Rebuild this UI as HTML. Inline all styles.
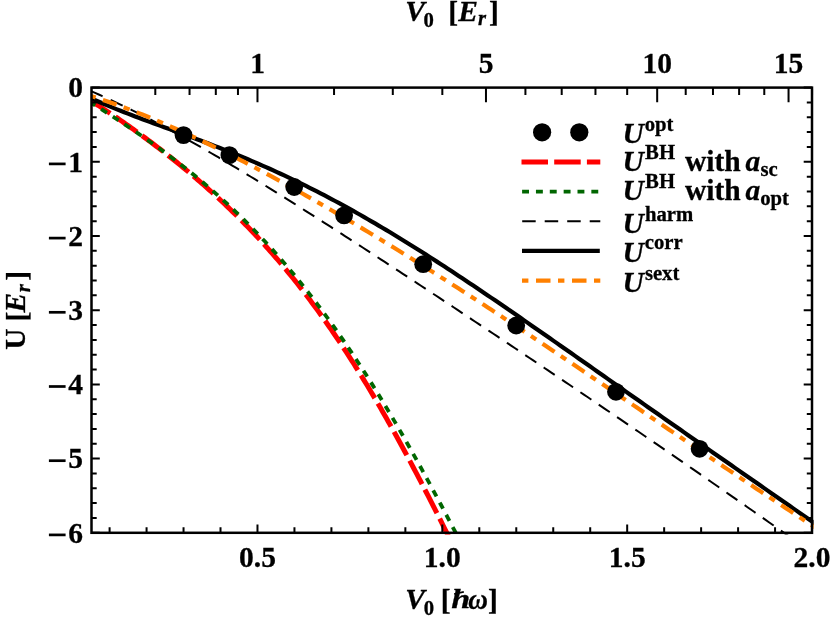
<!DOCTYPE html>
<html><head><meta charset="utf-8"><title>plot</title>
<style>html,body{margin:0;padding:0;background:#fff}body{width:830px;height:620px;position:relative;overflow:hidden;font-family:"Liberation Serif",serif}</style></head>
<body>
<svg width="830" height="620" viewBox="0 0 830 620" style="position:absolute;left:0;top:0;will-change:transform">
<rect width="830" height="620" fill="#fff"/>
<defs><clipPath id="c"><rect x="91.5" y="87.6" width="722.1" height="446.79999999999995"/></clipPath></defs>
<g clip-path="url(#c)" fill="none">
<path d="M91.50,101.18 L93.40,102.38 L95.30,103.58 L97.21,104.80 L99.11,106.02 L101.01,107.25 L102.91,108.49 L104.81,109.73 L106.72,110.99 L108.62,112.25 L110.52,113.52 L112.42,114.80 L114.32,116.08 L116.23,117.37 L118.13,118.67 L120.03,119.98 L121.93,121.30 L123.83,122.62 L125.74,123.94 L127.64,125.28 L129.54,126.62 L131.44,127.97 L133.34,129.33 L135.25,130.69 L137.15,132.06 L139.05,133.44 L140.95,134.83 L142.85,136.22 L144.76,137.62 L146.66,139.03 L148.56,140.44 L150.46,141.86 L152.36,143.29 L154.27,144.73 L156.17,146.17 L158.07,147.62 L159.97,149.08 L161.87,150.55 L163.78,152.02 L165.68,153.50 L167.58,155.00 L169.48,156.49 L171.38,158.00 L173.29,159.52 L175.19,161.04 L177.09,162.57 L178.99,164.11 L180.89,165.66 L182.80,167.22 L184.70,168.79 L186.60,170.36 L188.50,171.95 L190.40,173.54 L192.31,175.15 L194.21,176.76 L196.11,178.39 L198.01,180.02 L199.91,181.67 L201.82,183.32 L203.72,184.99 L205.62,186.67 L207.52,188.35 L209.42,190.05 L211.33,191.76 L213.23,193.48 L215.13,195.21 L217.03,196.96 L218.93,198.71 L220.84,200.48 L222.74,202.26 L224.64,204.05 L226.54,205.85 L228.44,207.67 L230.35,209.50 L232.25,211.35 L234.15,213.20 L236.05,215.07 L237.95,216.96 L239.86,218.85 L241.76,220.76 L243.66,222.69 L245.56,224.63 L247.46,226.58 L249.37,228.55 L251.27,230.54 L253.17,232.54 L255.07,234.55 L256.97,236.58 L258.88,238.62 L260.78,240.69 L262.68,242.76 L264.58,244.86 L266.48,246.97 L268.39,249.09 L270.29,251.23 L272.19,253.39 L274.09,255.57 L275.99,257.76 L277.90,259.97 L279.80,262.20 L281.70,264.45 L283.60,266.71 L285.51,268.99 L287.41,271.29 L289.31,273.61 L291.21,275.94 L293.11,278.30 L295.02,280.67 L296.92,283.06 L298.82,285.47 L300.72,287.90 L302.62,290.35 L304.53,292.82 L306.43,295.31 L308.33,297.81 L310.23,300.34 L312.13,302.89 L314.04,305.45 L315.94,308.04 L317.84,310.64 L319.74,313.27 L321.64,315.92 L323.55,318.58 L325.45,321.27 L327.35,323.98 L329.25,326.70 L331.15,329.45 L333.06,332.22 L334.96,335.01 L336.86,337.82 L338.76,340.65 L340.66,343.50 L342.57,346.37 L344.47,349.26 L346.37,352.17 L348.27,355.11 L350.17,358.06 L352.08,361.04 L353.98,364.03 L355.88,367.05 L357.78,370.08 L359.68,373.14 L361.59,376.22 L363.49,379.32 L365.39,382.44 L367.29,385.58 L369.19,388.74 L371.10,391.92 L373.00,395.12 L374.90,398.34 L376.80,401.58 L378.70,404.83 L380.61,408.11 L382.51,411.41 L384.41,414.73 L386.31,418.07 L388.21,421.43 L390.12,424.80 L392.02,428.19 L393.92,431.61 L395.82,435.04 L397.72,438.49 L399.63,441.96 L401.53,445.44 L403.43,448.94 L405.33,452.46 L407.23,456.00 L409.14,459.55 L411.04,463.12 L412.94,466.71 L414.84,470.31 L416.74,473.93 L418.65,477.56 L420.55,481.21 L422.45,484.88 L424.35,488.55 L426.25,492.24 L428.16,495.95 L430.06,499.67 L431.96,503.40 L433.86,507.14 L435.76,510.90 L437.67,514.66 L439.57,518.44 L441.47,522.23 L443.37,526.03 L445.27,529.84 L447.18,533.66 L449.08,537.48" stroke="#ff0000" stroke-width="5" stroke-dasharray="26.5 6.2" stroke-dashoffset="4.2"/>
<path d="M91.50,103.10 L93.45,104.31 L95.40,105.53 L97.36,106.75 L99.31,107.98 L101.26,109.21 L103.21,110.45 L105.17,111.69 L107.12,112.94 L109.07,114.19 L111.02,115.44 L112.97,116.70 L114.93,117.97 L116.88,119.24 L118.83,120.52 L120.78,121.80 L122.74,123.08 L124.69,124.38 L126.64,125.68 L128.59,126.98 L130.55,128.29 L132.50,129.61 L134.45,130.93 L136.40,132.26 L138.35,133.59 L140.31,134.94 L142.26,136.29 L144.21,137.64 L146.16,139.00 L148.12,140.38 L150.07,141.75 L152.02,143.14 L153.97,144.53 L155.92,145.93 L157.88,147.34 L159.83,148.76 L161.78,150.18 L163.73,151.62 L165.69,153.06 L167.64,154.51 L169.59,155.97 L171.54,157.44 L173.49,158.92 L175.45,160.41 L177.40,161.90 L179.35,163.41 L181.30,164.93 L183.26,166.46 L185.21,167.99 L187.16,169.54 L189.11,171.10 L191.07,172.67 L193.02,174.25 L194.97,175.84 L196.92,177.44 L198.87,179.05 L200.83,180.68 L202.78,182.32 L204.73,183.96 L206.68,185.62 L208.64,187.30 L210.59,188.98 L212.54,190.68 L214.49,192.39 L216.44,194.11 L218.40,195.85 L220.35,197.60 L222.30,199.36 L224.25,201.14 L226.21,202.93 L228.16,204.73 L230.11,206.55 L232.06,208.38 L234.02,210.23 L235.97,212.09 L237.92,213.96 L239.87,215.85 L241.82,217.76 L243.78,219.68 L245.73,221.61 L247.68,223.56 L249.63,225.53 L251.59,227.51 L253.54,229.51 L255.49,231.52 L257.44,233.55 L259.39,235.59 L261.35,237.66 L263.30,239.73 L265.25,241.83 L267.20,243.94 L269.16,246.07 L271.11,248.21 L273.06,250.38 L275.01,252.55 L276.96,254.75 L278.92,256.97 L280.87,259.20 L282.82,261.45 L284.77,263.71 L286.73,266.00 L288.68,268.30 L290.63,270.62 L292.58,272.96 L294.54,275.32 L296.49,277.69 L298.44,280.09 L300.39,282.50 L302.34,284.93 L304.30,287.38 L306.25,289.85 L308.20,292.33 L310.15,294.84 L312.11,297.36 L314.06,299.91 L316.01,302.47 L317.96,305.05 L319.91,307.65 L321.87,310.27 L323.82,312.91 L325.77,315.57 L327.72,318.25 L329.68,320.94 L331.63,323.66 L333.58,326.39 L335.53,329.15 L337.48,331.92 L339.44,334.71 L341.39,337.52 L343.34,340.36 L345.29,343.21 L347.25,346.08 L349.20,348.97 L351.15,351.87 L353.10,354.80 L355.06,357.75 L357.01,360.71 L358.96,363.70 L360.91,366.70 L362.86,369.72 L364.82,372.77 L366.77,375.83 L368.72,378.91 L370.67,382.00 L372.63,385.12 L374.58,388.25 L376.53,391.41 L378.48,394.58 L380.43,397.77 L382.39,400.98 L384.34,404.20 L386.29,407.44 L388.24,410.71 L390.20,413.98 L392.15,417.28 L394.10,420.59 L396.05,423.92 L398.01,427.27 L399.96,430.63 L401.91,434.01 L403.86,437.41 L405.81,440.82 L407.77,444.25 L409.72,447.70 L411.67,451.16 L413.62,454.63 L415.58,458.12 L417.53,461.63 L419.48,465.15 L421.43,468.68 L423.38,472.23 L425.34,475.80 L427.29,479.37 L429.24,482.96 L431.19,486.57 L433.15,490.18 L435.10,493.81 L437.05,497.45 L439.00,501.10 L440.95,504.76 L442.91,508.44 L444.86,512.13 L446.81,515.82 L448.76,519.53 L450.72,523.24 L452.67,526.97 L454.62,530.70 L456.57,534.45 L458.53,538.20" stroke="#006600" stroke-width="3.8" stroke-dasharray="6.9 6.95" stroke-dashoffset="2.5"/>
<path d="M91.50,91.35 L95.12,92.92 L98.74,94.51 L102.36,96.13 L105.98,97.76 L109.60,99.42 L113.22,101.11 L116.84,102.81 L120.46,104.53 L124.09,106.27 L127.71,108.04 L131.33,109.82 L134.95,111.62 L138.57,113.44 L142.19,115.27 L145.81,117.13 L149.43,119.00 L153.05,120.88 L156.67,122.78 L160.29,124.70 L163.91,126.64 L167.53,128.58 L171.15,130.55 L174.77,132.52 L178.39,134.52 L182.02,136.52 L185.64,138.54 L189.26,140.57 L192.88,142.61 L196.50,144.66 L200.12,146.73 L203.74,148.81 L207.36,150.90 L210.98,153.00 L214.60,155.11 L218.22,157.23 L221.84,159.36 L225.46,161.50 L229.08,163.65 L232.70,165.81 L236.32,167.98 L239.94,170.15 L243.57,172.34 L247.19,174.53 L250.81,176.73 L254.43,178.94 L258.05,181.15 L261.67,183.38 L265.29,185.61 L268.91,187.84 L272.53,190.08 L276.15,192.33 L279.77,194.59 L283.39,196.85 L287.01,199.12 L290.63,201.39 L294.25,203.67 L297.87,205.95 L301.49,208.24 L305.12,210.53 L308.74,212.83 L312.36,215.13 L315.98,217.44 L319.60,219.75 L323.22,222.07 L326.84,224.39 L330.46,226.71 L334.08,229.04 L337.70,231.37 L341.32,233.70 L344.94,236.04 L348.56,238.38 L352.18,240.72 L355.80,243.07 L359.42,245.42 L363.05,247.77 L366.67,250.12 L370.29,252.48 L373.91,254.84 L377.53,257.20 L381.15,259.57 L384.77,261.94 L388.39,264.31 L392.01,266.68 L395.63,269.05 L399.25,271.43 L402.87,273.81 L406.49,276.18 L410.11,278.57 L413.73,280.95 L417.35,283.34 L420.97,285.72 L424.60,288.11 L428.22,290.50 L431.84,292.89 L435.46,295.29 L439.08,297.68 L442.70,300.08 L446.32,302.47 L449.94,304.87 L453.56,307.27 L457.18,309.68 L460.80,312.08 L464.42,314.48 L468.04,316.89 L471.66,319.30 L475.28,321.71 L478.90,324.12 L482.53,326.53 L486.15,328.94 L489.77,331.35 L493.39,333.77 L497.01,336.18 L500.63,338.60 L504.25,341.02 L507.87,343.44 L511.49,345.86 L515.11,348.29 L518.73,350.71 L522.35,353.13 L525.97,355.56 L529.59,357.99 L533.21,360.42 L536.83,362.85 L540.45,365.28 L544.08,367.71 L547.70,370.15 L551.32,372.59 L554.94,375.02 L558.56,377.46 L562.18,379.90 L565.80,382.35 L569.42,384.79 L573.04,387.23 L576.66,389.68 L580.28,392.13 L583.90,394.58 L587.52,397.03 L591.14,399.48 L594.76,401.94 L598.38,404.39 L602.01,406.85 L605.63,409.31 L609.25,411.77 L612.87,414.24 L616.49,416.70 L620.11,419.17 L623.73,421.64 L627.35,424.11 L630.97,426.58 L634.59,429.05 L638.21,431.53 L641.83,434.01 L645.45,436.49 L649.07,438.97 L652.69,441.45 L656.31,443.94 L659.93,446.43 L663.56,448.92 L667.18,451.41 L670.80,453.90 L674.42,456.40 L678.04,458.89 L681.66,461.39 L685.28,463.89 L688.90,466.40 L692.52,468.90 L696.14,471.41 L699.76,473.92 L703.38,476.43 L707.00,478.94 L710.62,481.46 L714.24,483.98 L717.86,486.50 L721.48,489.02 L725.11,491.54 L728.73,494.07 L732.35,496.59 L735.97,499.12 L739.59,501.65 L743.21,504.18 L746.83,506.72 L750.45,509.25 L754.07,511.79 L757.69,514.33 L761.31,516.87 L764.93,519.41 L768.55,521.96 L772.17,524.50 L775.79,527.05 L779.41,529.60 L783.04,532.15 L786.66,534.70 L790.28,537.25" stroke="#000" stroke-width="2" stroke-dasharray="13.3 8.85" stroke-dashoffset="1.2"/>
<path d="M91.50,98.46 L95.14,100.10 L98.77,101.71 L102.41,103.29 L106.04,104.84 L109.68,106.36 L113.31,107.86 L116.95,109.33 L120.59,110.78 L124.22,112.22 L127.86,113.63 L131.49,115.04 L135.13,116.42 L138.76,117.80 L142.40,119.16 L146.04,120.51 L149.67,121.86 L153.31,123.20 L156.94,124.53 L160.58,125.86 L164.21,127.19 L167.85,128.52 L171.48,129.85 L175.12,131.17 L178.76,132.50 L182.39,133.84 L186.03,135.17 L189.66,136.52 L193.30,137.86 L196.93,139.22 L200.57,140.58 L204.21,141.95 L207.84,143.33 L211.48,144.72 L215.11,146.13 L218.75,147.54 L222.38,148.96 L226.02,150.40 L229.66,151.85 L233.29,153.31 L236.93,154.79 L240.56,156.28 L244.20,157.79 L247.83,159.31 L251.47,160.85 L255.11,162.40 L258.74,163.97 L262.38,165.56 L266.01,167.16 L269.65,168.78 L273.28,170.42 L276.92,172.07 L280.56,173.75 L284.19,175.44 L287.83,177.14 L291.46,178.87 L295.10,180.61 L298.73,182.37 L302.37,184.15 L306.01,185.95 L309.64,187.77 L313.28,189.60 L316.91,191.45 L320.55,193.32 L324.18,195.21 L327.82,197.11 L331.45,199.03 L335.09,200.98 L338.73,202.93 L342.36,204.91 L346.00,206.90 L349.63,208.91 L353.27,210.93 L356.90,212.98 L360.54,215.03 L364.18,217.11 L367.81,219.20 L371.45,221.31 L375.08,223.43 L378.72,225.57 L382.35,227.72 L385.99,229.88 L389.63,232.07 L393.26,234.26 L396.90,236.47 L400.53,238.70 L404.17,240.93 L407.80,243.18 L411.44,245.45 L415.08,247.72 L418.71,250.01 L422.35,252.31 L425.98,254.62 L429.62,256.94 L433.25,259.28 L436.89,261.62 L440.53,263.98 L444.16,266.34 L447.80,268.72 L451.43,271.10 L455.07,273.50 L458.70,275.90 L462.34,278.31 L465.97,280.73 L469.61,283.16 L473.25,285.60 L476.88,288.04 L480.52,290.49 L484.15,292.95 L487.79,295.41 L491.42,297.88 L495.06,300.36 L498.70,302.84 L502.33,305.33 L505.97,307.83 L509.60,310.32 L513.24,312.83 L516.87,315.33 L520.51,317.85 L524.15,320.36 L527.78,322.88 L531.42,325.40 L535.05,327.93 L538.69,330.46 L542.32,332.99 L545.96,335.53 L549.60,338.07 L553.23,340.61 L556.87,343.15 L560.50,345.69 L564.14,348.24 L567.77,350.78 L571.41,353.33 L575.05,355.88 L578.68,358.43 L582.32,360.98 L585.95,363.54 L589.59,366.09 L593.22,368.64 L596.86,371.19 L600.49,373.75 L604.13,376.30 L607.77,378.86 L611.40,381.41 L615.04,383.96 L618.67,386.52 L622.31,389.07 L625.94,391.62 L629.58,394.17 L633.22,396.72 L636.85,399.28 L640.49,401.83 L644.12,404.38 L647.76,406.92 L651.39,409.47 L655.03,412.02 L658.67,414.57 L662.30,417.11 L665.94,419.66 L669.57,422.20 L673.21,424.74 L676.84,427.28 L680.48,429.83 L684.12,432.37 L687.75,434.91 L691.39,437.44 L695.02,439.98 L698.66,442.52 L702.29,445.06 L705.93,447.59 L709.57,450.13 L713.20,452.66 L716.84,455.20 L720.47,457.73 L724.11,460.26 L727.74,462.80 L731.38,465.33 L735.02,467.86 L738.65,470.39 L742.29,472.92 L745.92,475.45 L749.56,477.98 L753.19,480.51 L756.83,483.05 L760.46,485.58 L764.10,488.11 L767.74,490.64 L771.37,493.17 L775.01,495.70 L778.64,498.23 L782.28,500.76 L785.91,503.29 L789.55,505.82 L793.19,508.36 L796.82,510.89 L800.46,513.42 L804.09,515.95 L807.73,518.48 L811.36,521.02 L815.00,523.55" stroke="#000" stroke-width="4.2"/>
<path d="M91.50,96.18 L95.14,97.34 L98.77,98.53 L102.41,99.74 L106.04,100.98 L109.68,102.24 L113.31,103.52 L116.95,104.83 L120.59,106.15 L124.22,107.51 L127.86,108.88 L131.49,110.27 L135.13,111.68 L138.76,113.12 L142.40,114.57 L146.04,116.05 L149.67,117.54 L153.31,119.05 L156.94,120.58 L160.58,122.13 L164.21,123.69 L167.85,125.28 L171.48,126.88 L175.12,128.49 L178.76,130.13 L182.39,131.77 L186.03,133.44 L189.66,135.12 L193.30,136.81 L196.93,138.52 L200.57,140.25 L204.21,141.99 L207.84,143.74 L211.48,145.51 L215.11,147.29 L218.75,149.08 L222.38,150.89 L226.02,152.71 L229.66,154.54 L233.29,156.38 L236.93,158.24 L240.56,160.11 L244.20,161.99 L247.83,163.88 L251.47,165.79 L255.11,167.70 L258.74,169.63 L262.38,171.56 L266.01,173.51 L269.65,175.47 L273.28,177.44 L276.92,179.42 L280.56,181.41 L284.19,183.40 L287.83,185.41 L291.46,187.43 L295.10,189.46 L298.73,191.49 L302.37,193.54 L306.01,195.59 L309.64,197.66 L313.28,199.73 L316.91,201.81 L320.55,203.90 L324.18,206.00 L327.82,208.10 L331.45,210.22 L335.09,212.34 L338.73,214.47 L342.36,216.61 L346.00,218.75 L349.63,220.90 L353.27,223.07 L356.90,225.23 L360.54,227.41 L364.18,229.59 L367.81,231.78 L371.45,233.98 L375.08,236.18 L378.72,238.39 L382.35,240.61 L385.99,242.83 L389.63,245.06 L393.26,247.30 L396.90,249.54 L400.53,251.79 L404.17,254.05 L407.80,256.31 L411.44,258.58 L415.08,260.85 L418.71,263.14 L422.35,265.42 L425.98,267.71 L429.62,270.01 L433.25,272.31 L436.89,274.62 L440.53,276.94 L444.16,279.25 L447.80,281.58 L451.43,283.91 L455.07,286.24 L458.70,288.58 L462.34,290.93 L465.97,293.28 L469.61,295.63 L473.25,297.99 L476.88,300.35 L480.52,302.72 L484.15,305.09 L487.79,307.47 L491.42,309.85 L495.06,312.24 L498.70,314.63 L502.33,317.02 L505.97,319.42 L509.60,321.82 L513.24,324.23 L516.87,326.63 L520.51,329.05 L524.15,331.46 L527.78,333.88 L531.42,336.30 L535.05,338.73 L538.69,341.16 L542.32,343.59 L545.96,346.03 L549.60,348.47 L553.23,350.91 L556.87,353.35 L560.50,355.80 L564.14,358.25 L567.77,360.70 L571.41,363.15 L575.05,365.61 L578.68,368.06 L582.32,370.52 L585.95,372.99 L589.59,375.45 L593.22,377.92 L596.86,380.38 L600.49,382.85 L604.13,385.32 L607.77,387.79 L611.40,390.26 L615.04,392.74 L618.67,395.21 L622.31,397.69 L625.94,400.16 L629.58,402.64 L633.22,405.12 L636.85,407.60 L640.49,410.08 L644.12,412.55 L647.76,415.03 L651.39,417.51 L655.03,419.99 L658.67,422.47 L662.30,424.95 L665.94,427.42 L669.57,429.90 L673.21,432.38 L676.84,434.85 L680.48,437.33 L684.12,439.80 L687.75,442.27 L691.39,444.74 L695.02,447.21 L698.66,449.68 L702.29,452.15 L705.93,454.62 L709.57,457.08 L713.20,459.54 L716.84,462.00 L720.47,464.46 L724.11,466.91 L727.74,469.37 L731.38,471.82 L735.02,474.26 L738.65,476.71 L742.29,479.15 L745.92,481.59 L749.56,484.03 L753.19,486.46 L756.83,488.89 L760.46,491.32 L764.10,493.74 L767.74,496.16 L771.37,498.58 L775.01,500.99 L778.64,503.40 L782.28,505.80 L785.91,508.20 L789.55,510.60 L793.19,512.99 L796.82,515.38 L800.46,517.77 L804.09,520.15 L807.73,522.52 L811.36,524.89 L815.00,527.26" stroke="#ff8000" stroke-width="4.2" stroke-dasharray="6.4 7.6 14.5 7.5" stroke-dashoffset="2.0"/>
</g>
<circle cx="183.5" cy="135.1" r="8.9" fill="#000"/>
<circle cx="229.4" cy="155.1" r="8.9" fill="#000"/>
<circle cx="294.2" cy="187" r="8.9" fill="#000"/>
<circle cx="344.1" cy="215.4" r="8.9" fill="#000"/>
<circle cx="423.2" cy="264.2" r="8.9" fill="#000"/>
<circle cx="516.2" cy="325.5" r="8.9" fill="#000"/>
<circle cx="616" cy="391.8" r="8.9" fill="#000"/>
<circle cx="699.6" cy="448.8" r="8.9" fill="#000"/>
<rect x="91.5" y="87.6" width="720.5" height="445.19999999999993" fill="none" stroke="#000" stroke-width="2.5"/>
<path d="M109.60,532.8v-5.5 M146.57,532.8v-5.5 M183.54,532.8v-5.5 M220.51,532.8v-5.5 M257.48,532.8v-8.3 M294.45,532.8v-5.5 M331.42,532.8v-5.5 M368.39,532.8v-5.5 M405.36,532.8v-5.5 M442.33,532.8v-8.3 M479.30,532.8v-5.5 M516.27,532.8v-5.5 M553.24,532.8v-5.5 M590.21,532.8v-5.5 M627.18,532.8v-8.3 M664.15,532.8v-5.5 M701.12,532.8v-5.5 M738.09,532.8v-5.5 M775.06,532.8v-5.5 M812.03,532.8v-8.3 M155.30,87.6v7.5 M189.54,87.6v7.5 M215.81,87.6v7.5 M237.96,87.6v7.5 M334.05,87.6v7.5 M392.80,87.6v7.5 M442.33,87.6v7.5 M525.42,87.6v7.5 M561.70,87.6v7.5 M595.46,87.6v7.5 M627.18,87.6v7.5 M685.71,87.6v7.5 M712.97,87.6v7.5 M739.12,87.6v7.5 M764.28,87.6v7.5 M812.03,87.6v7.5 M257.48,87.6v14.6 M485.97,87.6v14.6 M657.18,87.6v14.6 M788.55,87.6v14.6 M91.5,87.60h8.3 M812.0,87.60h-8.3 M91.5,102.44h5.2 M812.0,102.44h-5.2 M91.5,117.28h5.2 M812.0,117.28h-5.2 M91.5,132.12h5.2 M812.0,132.12h-5.2 M91.5,146.96h5.2 M812.0,146.96h-5.2 M91.5,161.80h8.3 M812.0,161.80h-8.3 M91.5,176.64h5.2 M812.0,176.64h-5.2 M91.5,191.48h5.2 M812.0,191.48h-5.2 M91.5,206.32h5.2 M812.0,206.32h-5.2 M91.5,221.16h5.2 M812.0,221.16h-5.2 M91.5,236.00h8.3 M812.0,236.00h-8.3 M91.5,250.84h5.2 M812.0,250.84h-5.2 M91.5,265.68h5.2 M812.0,265.68h-5.2 M91.5,280.52h5.2 M812.0,280.52h-5.2 M91.5,295.36h5.2 M812.0,295.36h-5.2 M91.5,310.20h8.3 M812.0,310.20h-8.3 M91.5,325.04h5.2 M812.0,325.04h-5.2 M91.5,339.88h5.2 M812.0,339.88h-5.2 M91.5,354.72h5.2 M812.0,354.72h-5.2 M91.5,369.56h5.2 M812.0,369.56h-5.2 M91.5,384.40h8.3 M812.0,384.40h-8.3 M91.5,399.24h5.2 M812.0,399.24h-5.2 M91.5,414.08h5.2 M812.0,414.08h-5.2 M91.5,428.92h5.2 M812.0,428.92h-5.2 M91.5,443.76h5.2 M812.0,443.76h-5.2 M91.5,458.60h8.3 M812.0,458.60h-8.3 M91.5,473.44h5.2 M812.0,473.44h-5.2 M91.5,488.28h5.2 M812.0,488.28h-5.2 M91.5,503.12h5.2 M812.0,503.12h-5.2 M91.5,517.96h5.2 M812.0,517.96h-5.2 M91.5,532.80h8.3 M812.0,532.80h-8.3" stroke="#000" stroke-width="2" fill="none"/>
<circle cx="542.1" cy="132.3" r="9.1"/><circle cx="579.3" cy="132.3" r="9.1"/>
<path d="M521.5,162.0H600.3" stroke="#ff0000" stroke-width="5" stroke-dasharray="26.5 6.2"/>
<path d="M522.1,191.6H600.3" stroke="#006600" stroke-width="3.8" stroke-dasharray="6.9 6.95"/>
<path d="M522.2,221.3H600.3" stroke="#000" stroke-width="2" stroke-dasharray="13.5 9"/>
<path d="M522.0,250.9H599.8" stroke="#000" stroke-width="4.2"/>
<path d="M522.0,280.6H600.3" stroke="#ff8000" stroke-width="4.2" stroke-dasharray="6.4 7.6 14.5 7.5"/>
<g font-family="Liberation Serif, serif" font-weight="bold" font-size="29.5" fill="#000" stroke="#000" stroke-width="0.3">
<text x="622.62" y="143.4" font-style="italic">U</text>
<text x="644.75" y="130.8" font-size="20.7">opt</text>
<text x="622.62" y="171.0" font-style="italic">U</text>
<text x="645.12" y="159.1" font-size="20.7">BH</text>
<text x="684.98" y="171.0">with</text>
<text x="745.42" y="171.0" font-style="italic">a</text>
<text x="760.38" y="176.3" font-size="20.7">sc</text>
<text x="622.62" y="200.0" font-style="italic">U</text>
<text x="645.12" y="188.1" font-size="20.7">BH</text>
<text x="684.98" y="200.0">with</text>
<text x="745.42" y="200.0" font-style="italic">a</text>
<text x="760.25" y="205.3" font-size="20.7">opt</text>
<text x="622.62" y="232.9" font-style="italic">U</text>
<text x="645.00" y="221.0" font-size="20.7">harm</text>
<text x="622.62" y="261.6" font-style="italic">U</text>
<text x="644.75" y="248.70000000000002" font-size="20.7">corr</text>
<text x="622.62" y="291.6" font-style="italic">U</text>
<text x="644.88" y="279.70000000000005" font-size="20.7">sext</text>
<text x="405.25" y="20.7" font-style="italic">V</text>
<text x="423.55" y="26.7" font-size="20.7">0</text>
<text x="448.15" y="22.1">[</text>
<text x="458.25" y="20.7" font-style="italic">E</text>
<text x="478.12" y="25.1" font-size="20.7" font-style="italic">r</text>
<text x="488.88" y="22.1">]</text>
<text x="405.25" y="608.9" font-style="italic">V</text>
<text x="423.85" y="615.0" font-size="20.7">0</text>
<text x="440.65" y="609.7">[</text>
<text x="488.07" y="609.7">]</text>
<text transform="translate(451.27,608.4) scale(1.16,0.9)" font-style="italic">h</text>
<text transform="translate(468.32,608.5) scale(0.92,1.0)" font-style="italic">ω</text>
<path d="M454.1,594.0L463.8,591.8" stroke="#000" stroke-width="1.7" fill="none"/>
<text x="257.5" y="566.5" text-anchor="middle">0.5</text>
<text x="442.3" y="566.5" text-anchor="middle">1.0</text>
<text x="627.2" y="566.5" text-anchor="middle">1.5</text>
<text x="812.0" y="566.5" text-anchor="middle">2.0</text>
<text x="257.5" y="73.2" text-anchor="middle">1</text>
<text x="486.0" y="73.2" text-anchor="middle">5</text>
<text x="657.2" y="73.2" text-anchor="middle">10</text>
<text x="788.6" y="73.2" text-anchor="middle">15</text>
<text x="83" y="97.3" text-anchor="end">0</text>
<text x="83" y="171.5" text-anchor="end">1</text>
<path d="M48.9,163.9H65.6" stroke="#000" stroke-width="2.7"/>
<text x="83" y="245.7" text-anchor="end">2</text>
<path d="M48.9,238.1H65.6" stroke="#000" stroke-width="2.7"/>
<text x="83" y="319.9" text-anchor="end">3</text>
<path d="M48.9,312.3H65.6" stroke="#000" stroke-width="2.7"/>
<text x="83" y="394.1" text-anchor="end">4</text>
<path d="M48.9,386.5H65.6" stroke="#000" stroke-width="2.7"/>
<text x="83" y="468.3" text-anchor="end">5</text>
<path d="M48.9,460.7H65.6" stroke="#000" stroke-width="2.7"/>
<text x="83" y="542.5" text-anchor="end">6</text>
<path d="M48.9,534.9H65.6" stroke="#000" stroke-width="2.7"/>
<g transform="translate(25.4,349.1) rotate(-90)">
<text x="-0.75" y="0">U</text>
<text x="27.55" y="1.4">[</text>
<text x="36.55" y="0" font-style="italic">E</text>
<text x="56.92" y="4.4" font-size="20.7" font-style="italic">r</text>
<text x="68.47" y="1.4">]</text>
</g>
</g>
</svg>
</body></html>
